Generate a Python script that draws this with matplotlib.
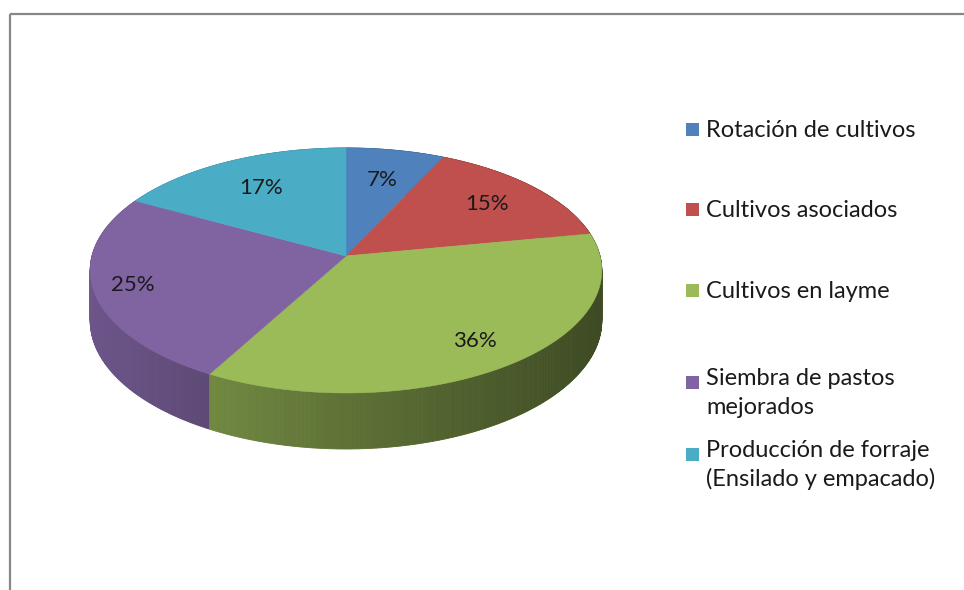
import numpy as np
import matplotlib.pyplot as plt
from matplotlib.collections import PolyCollection
from matplotlib.colors import to_rgb
from matplotlib.patches import Rectangle

plt.rcParams["font.family"] = ["Lato", "DejaVu Sans"]

labels = [
    "Rotación de cultivos",
    "Cultivos asociados",
    "Cultivos en layme",
    "Siembra de pastos\nmejorados",
    "Producción de forraje\n(Ensilado y empacado)",
]
values = [7, 15, 36, 25, 17]
colors = ["#4F81BD", "#C0504D", "#9BBB59", "#8064A2", "#4BACC6"]

# where the percentage sits along each slice's middle angle (fraction of radius)
label_radius = [0.7, 0.74, 0.8, 0.85, 0.7]

# pie geometry, in pixels
CX, CY = 346, 256
RX, RY = 254, 120.8
PERSP = 0.118
DEPTH = 49.4


def project(theta, r=1.0, drop=0.0):
    # theta in degrees, clockwise from 12 o'clock
    t = np.radians(theta)
    x = r * np.sin(t)
    z = r * np.cos(t)
    w = 1 + PERSP * z
    return CX + RX * x / w, CY - RY * z / w + drop / w


def side_shade(x):
    u = np.clip((x - (CX - RX)) / (2 * RX), 0, 1)
    return 0.85 - 0.45 * u ** 0.9


fig = plt.figure(figsize=(9.64, 5.90), dpi=100)
ax = fig.add_axes([0, 0, 1, 1])
ax.set_xlim(0, 964)
ax.set_ylim(590, 0)
ax.axis("off")

# chart frame (only top and left edges fall inside the image)
ax.plot([10, 964], [14, 14], color="#878787", lw=1.6, solid_capstyle="butt")
ax.plot([10, 10], [14, 590], color="#878787", lw=1.6, solid_capstyle="butt")

bounds = np.concatenate([[0], np.cumsum(values)]) * 360 / sum(values)

# cylinder side: thin strips, back to front
strips, strip_colors, strip_depth = [], [], []
for i, color in enumerate(colors):
    base = np.array(to_rgb(color))
    th = np.linspace(bounds[i], bounds[i + 1], int((bounds[i + 1] - bounds[i]) * 2) + 2)
    for a, b in zip(th[:-1], th[1:]):
        x1, y1 = project(a)
        x2, y2 = project(b)
        x3, y3 = project(b, drop=DEPTH)
        x4, y4 = project(a, drop=DEPTH)
        strips.append([(x1, y1), (x2, y2), (x3, y3), (x4, y4)])
        c = np.clip(base * side_shade((x1 + x2) / 2), 0, 1)
        strip_colors.append(c)
        strip_depth.append(np.cos(np.radians((a + b) / 2)))
order = np.argsort(strip_depth)[::-1]
side = PolyCollection(
    [strips[k] for k in order],
    facecolors=[strip_colors[k] for k in order],
    edgecolors=[strip_colors[k] for k in order],
    linewidths=0.6,
    zorder=2,
)
ax.add_collection(side)

# top face wedges
for i, color in enumerate(colors):
    th = np.linspace(bounds[i], bounds[i + 1], 200)
    xs, ys = project(th)
    poly = [(CX, CY)] + list(zip(xs, ys))
    ax.add_patch(plt.Polygon(poly, closed=True, facecolor=color, edgecolor=color,
                             lw=0.4, zorder=3))

# percentage labels
for i, v in enumerate(values):
    mid = (bounds[i] + bounds[i + 1]) / 2
    lx, ly = project(mid, r=label_radius[i])
    ax.text(lx, ly, f"{v}%", ha="center", va="center", fontsize=16,
            color="#1a1a1a", zorder=4)

# legend, one text per line
key_y = [129, 209, 290, 382, 454]
base_y = [137, 217, 298, 385, 457]
line_pitch = 28.5
for i, (lab, color) in enumerate(zip(labels, colors)):
    ax.add_patch(Rectangle((686, key_y[i] - 6.5), 13, 13, facecolor=color,
                           edgecolor="none", zorder=4))
    for j, line in enumerate(lab.split("\n")):
        ax.text(706, base_y[i] + j * line_pitch, line, ha="left", va="baseline",
                fontsize=17, color="#1a1a1a", zorder=4)

fig.savefig("out.png", dpi=100)
